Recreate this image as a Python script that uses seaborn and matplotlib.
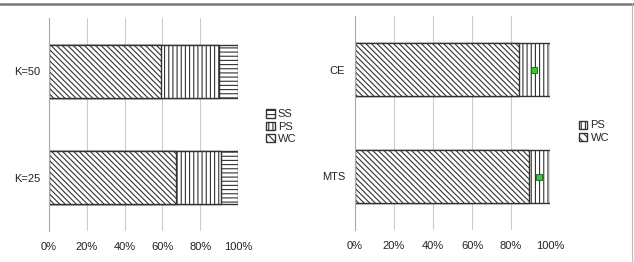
import numpy as np
import pandas as pd
import seaborn as sns
import matplotlib.pyplot as plt
from matplotlib.patches import Patch
from matplotlib.lines import Line2D

# left chart: K values
k_labels = ["K=50", "K=25"]
k_wc = [59, 67]
k_ps = [31, 24]
k_ss = [10, 9]

# right chart: methods
m_labels = ["CE", "MTS"]
m_wc = [84, 89]
m_ps = [16, 11]
m_mark = [92, 94.5]

sns.set_style("white")
plt.rcParams['font.family'] = ['Liberation Sans', 'DejaVu Sans']
plt.rcParams['hatch.linewidth'] = 0.8
plt.rcParams['hatch.color'] = '#444444'

EDGE = '#333333'
HATCH = {"WC": "\\" * 6, "PS": "||||", "SS": "----"}

fig = plt.figure(figsize=(6.34, 2.62), dpi=100)
ax1 = fig.add_axes([49/634, 31/262, 189/634, 213/262])
ax2 = fig.add_axes([355/634, 32/262, 195/634, 214/262])


def stacked(ax, labels, segments):
    # draw cumulative bars from longest to shortest so the stack shows
    cum = np.zeros(len(labels))
    tops = []
    for name, vals in segments:
        cum = cum + np.array(vals)
        tops.append((name, cum.copy()))
    for name, tot in reversed(tops):
        df = pd.DataFrame({"cat": labels, "val": tot})
        sns.barplot(data=df, y="cat", x="val", order=labels, ax=ax, orient="h",
                    color="white", edgecolor=EDGE, linewidth=1.0,
                    hatch=HATCH[name], width=0.5, saturation=1)


def style(ax, labels, pad):
    ax.set_xlim(0, 100)
    ax.set_ylim(1.5, -0.5)
    ax.set_xticks([0, 20, 40, 60, 80, 100])
    ax.set_xticklabels(["0%", "20%", "40%", "60%", "80%", "100%"], fontsize=8, color='#222222')
    ax.set_yticks([-0.5, 0.5, 1.5], minor=True)
    ax.set_yticks([0, 1])
    ax.set_yticklabels(labels, fontsize=8, color='#222222')
    ax.tick_params(axis='y', which='major', length=0, pad=pad)
    ax.tick_params(axis='y', which='minor', length=3, color='#aaaaaa', direction='out')
    ax.tick_params(axis='x', length=0, pad=8)
    ax.set_xlabel("")
    ax.set_ylabel("")
    ax.xaxis.grid(True, color='#cccccc', linewidth=0.8)
    ax.set_axisbelow(True)
    for s in ["top", "right", "bottom"]:
        ax.spines[s].set_visible(False)
    ax.spines["left"].set_color('#aaaaaa')
    ax.spines["left"].set_linewidth(0.8)


stacked(ax1, k_labels, [("WC", k_wc), ("PS", k_ps), ("SS", k_ss)])
style(ax1, k_labels, 6)

stacked(ax2, m_labels, [("WC", m_wc), ("PS", m_ps)])
sns.scatterplot(x=m_mark, y=[0, 1], ax=ax2, marker="s", s=22, color="#33cc33",
                edgecolor="#225522", linewidth=0.6, zorder=5, legend=False)
style(ax2, m_labels, 7)


def legend(ax, names, anchor):
    handles = [Patch(facecolor="white", edgecolor=EDGE, hatch=HATCH[n][:4], label=n) for n in names]
    ax.legend(handles=handles, loc="center left", bbox_to_anchor=anchor, frameon=False,
              fontsize=8, handlelength=0.75, handleheight=0.75, handletextpad=0.3,
              labelspacing=0.2, borderpad=0)


legend(ax1, ["SS", "PS", "WC"], (1.12, 0.49))
legend(ax2, ["PS", "WC"], (1.12, 0.46))

# frame lines around the figure
fig.add_artist(Line2D([0, 1], [1 - 4/262, 1 - 4/262], color='#777777', linewidth=1.8))
fig.add_artist(Line2D([632/634, 632/634], [0, 1 - 4/262], color='#bbbbbb', linewidth=0.8))

fig.savefig("out.png", dpi=100)
